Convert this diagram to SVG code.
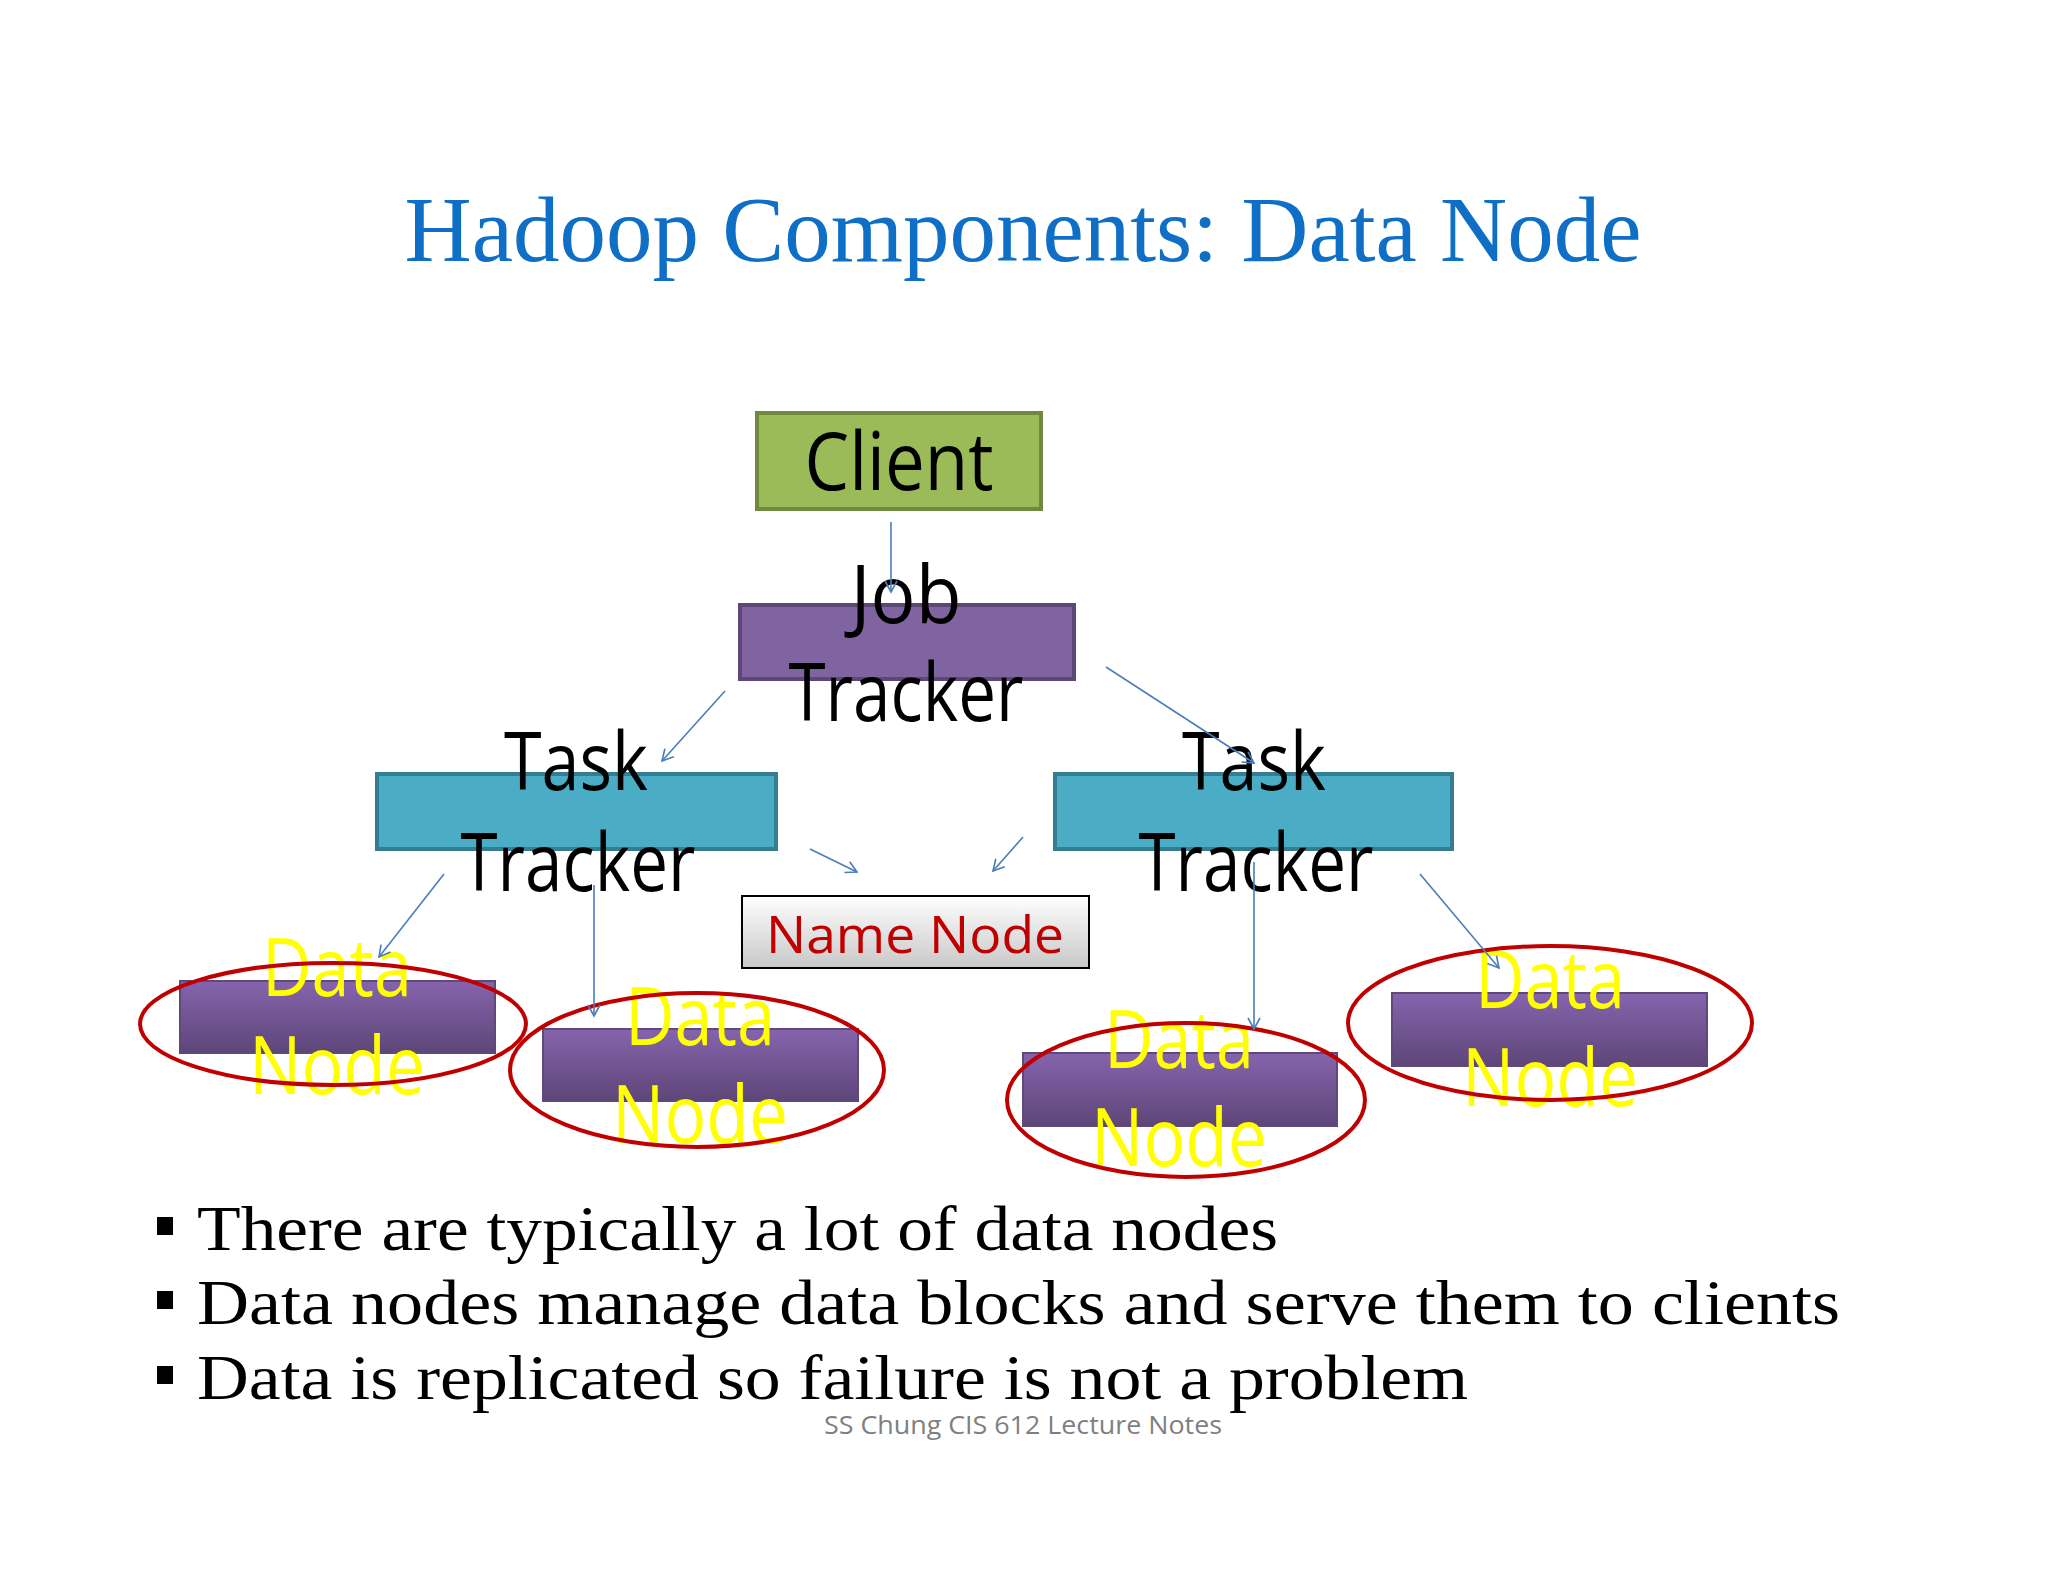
<svg xmlns="http://www.w3.org/2000/svg" width="2048" height="1582" viewBox="0 0 2048 1582">
<style>
.big{font-family:"Open Sans","Liberation Sans",sans-serif;font-size:80px;text-anchor:middle}
.dn{fill:#ffff00}
.ell{fill:none;stroke:#c00000;stroke-width:4}
.dr{fill:url(#gDN);stroke:#5f497a;stroke-width:2}
.bul{font-family:"Liberation Serif",serif;font-size:64px;fill:#000}
.c{stroke:#4a7ebb;stroke-width:1.6;fill:none;marker-end:url(#ah)}
</style>
<defs>
<linearGradient id="gDN" x1="0" y1="0" x2="0" y2="1"><stop offset="0" stop-color="#8564ad"/><stop offset="1" stop-color="#5e4678"/></linearGradient>
<linearGradient id="gNN" x1="0" y1="0" x2="0" y2="1"><stop offset="0" stop-color="#ffffff"/><stop offset="1" stop-color="#c8c8c8"/></linearGradient>
<marker id="ah" markerWidth="14" markerHeight="14" refX="12" refY="7" orient="auto" markerUnits="userSpaceOnUse"><path d="M1,1 L12,7 L1,13" fill="none" stroke="#4a7ebb" stroke-width="1.6"/></marker>
</defs>
<rect width="2048" height="1582" fill="#ffffff"/>
<text x="1023" y="261" font-family="Liberation Serif,serif" font-size="94" fill="#0f6fc6" text-anchor="middle" textLength="1237" lengthAdjust="spacingAndGlyphs">Hadoop Components: Data Node</text>
<g id="client"><rect x="757" y="413" width="284" height="96" fill="#9bbb59" stroke="#71893f" stroke-width="4"/><text class="big" x="899" y="490" textLength="189" lengthAdjust="spacingAndGlyphs">Client</text></g>
<g id="jobtracker"><rect x="740" y="605" width="334" height="74" fill="#8064a2" stroke="#5c4776" stroke-width="4"/><text class="big" x="906" y="623" textLength="111" lengthAdjust="spacingAndGlyphs">Job</text><text class="big" x="906" y="721" textLength="235" lengthAdjust="spacingAndGlyphs">Tracker</text></g>
<g id="tasktracker1"><rect x="377" y="774" width="399" height="75" fill="#4bacc6" stroke="#357d91" stroke-width="4"/><text class="big" x="576" y="790" textLength="144" lengthAdjust="spacingAndGlyphs">Task</text><text class="big" x="578" y="891" textLength="235" lengthAdjust="spacingAndGlyphs">Tracker</text></g>
<g id="tasktracker2"><rect x="1055" y="774" width="397" height="75" fill="#4bacc6" stroke="#357d91" stroke-width="4"/><text class="big" x="1254" y="790" textLength="144" lengthAdjust="spacingAndGlyphs">Task</text><text class="big" x="1256" y="891" textLength="235" lengthAdjust="spacingAndGlyphs">Tracker</text></g>
<g id="namenode"><rect x="742" y="896" width="347" height="72" fill="url(#gNN)" stroke="#000" stroke-width="2"/><text x="915" y="953" font-family="Open Sans,Liberation Sans,sans-serif" font-size="52" fill="#c00000" text-anchor="middle" textLength="298" lengthAdjust="spacingAndGlyphs">Name Node</text></g>
<g id="datanode1"><rect class="dr" x="180" y="981" width="315" height="72"/><text class="big dn" x="337" y="996" textLength="150" lengthAdjust="spacingAndGlyphs">Data</text><text class="big dn" x="337" y="1094" textLength="176" lengthAdjust="spacingAndGlyphs">Node</text><ellipse class="ell" cx="333" cy="1024" rx="193" ry="61"/></g>
<g id="datanode2"><rect class="dr" x="543" y="1029" width="315" height="72"/><text class="big dn" x="700" y="1045" textLength="150" lengthAdjust="spacingAndGlyphs">Data</text><text class="big dn" x="700" y="1143" textLength="176" lengthAdjust="spacingAndGlyphs">Node</text><ellipse class="ell" cx="697" cy="1070" rx="187" ry="77"/></g>
<g id="datanode3"><rect class="dr" x="1023" y="1053" width="314" height="73"/><text class="big dn" x="1179" y="1068" textLength="150" lengthAdjust="spacingAndGlyphs">Data</text><text class="big dn" x="1179" y="1166" textLength="176" lengthAdjust="spacingAndGlyphs">Node</text><ellipse class="ell" cx="1186" cy="1100" rx="179" ry="77"/></g>
<g id="datanode4"><rect class="dr" x="1392" y="993" width="315" height="73"/><text class="big dn" x="1550" y="1008" textLength="150" lengthAdjust="spacingAndGlyphs">Data</text><text class="big dn" x="1550" y="1106" textLength="176" lengthAdjust="spacingAndGlyphs">Node</text><ellipse class="ell" cx="1550" cy="1023" rx="202" ry="77"/></g>
<g id="connectors">
<line class="c" x1="891" y1="522" x2="891" y2="592"/>
<line class="c" x1="725" y1="691" x2="662" y2="761"/>
<line class="c" x1="1106" y1="667" x2="1254" y2="763"/>
<line class="c" x1="810" y1="849" x2="857" y2="872"/>
<line class="c" x1="1023" y1="837" x2="993" y2="871"/>
<line class="c" x1="444" y1="874" x2="379" y2="957"/>
<line class="c" x1="594" y1="885" x2="594" y2="1016"/>
<line class="c" x1="1254" y1="862" x2="1254" y2="1029"/>
<line class="c" x1="1420" y1="874" x2="1499" y2="968"/>
</g>
<g id="bullets">
<rect x="157" y="1217" width="16" height="18" fill="#000"/>
<rect x="157" y="1291" width="16" height="18" fill="#000"/>
<rect x="157" y="1366" width="16" height="18" fill="#000"/>
<text class="bul" x="197" y="1250" textLength="1081" lengthAdjust="spacingAndGlyphs">There are typically a lot of data nodes</text>
<text class="bul" x="197" y="1324" textLength="1643" lengthAdjust="spacingAndGlyphs">Data nodes manage data blocks and serve them to clients</text>
<text class="bul" x="197" y="1399" textLength="1271" lengthAdjust="spacingAndGlyphs">Data is replicated so failure is not a problem</text>
</g>
<text x="1023" y="1434" font-family="Open Sans,Liberation Sans,sans-serif" font-size="26" fill="#7f7f7f" text-anchor="middle" textLength="398" lengthAdjust="spacingAndGlyphs">SS Chung CIS 612 Lecture Notes</text>
</svg>
